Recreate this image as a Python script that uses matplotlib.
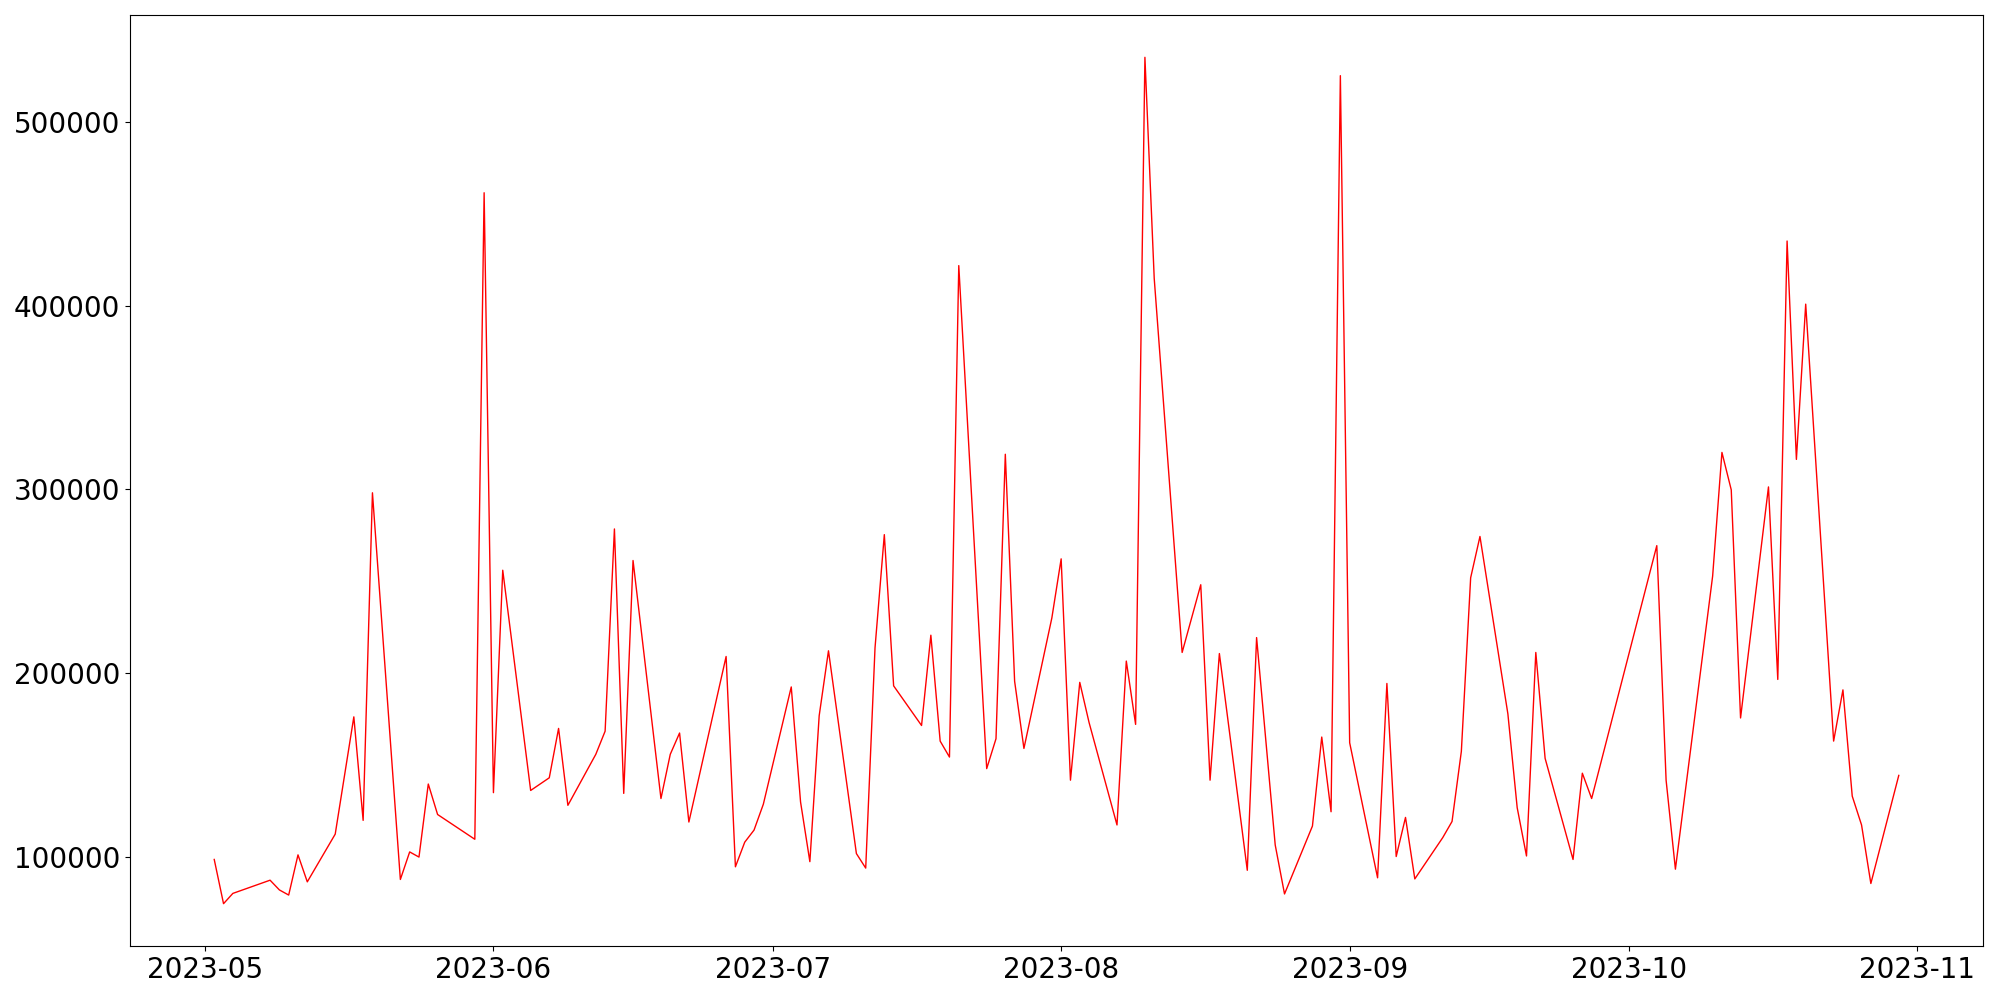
import pandas as pd
import matplotlib
matplotlib.use("Agg")
import matplotlib.pyplot as plt

# dates (business days) and values
dates = [
    "2023-05-02", "2023-05-03", "2023-05-04", "2023-05-08", "2023-05-09", "2023-05-10",
    "2023-05-11", "2023-05-12", "2023-05-15", "2023-05-17", "2023-05-18", "2023-05-19",
    "2023-05-22", "2023-05-23", "2023-05-24", "2023-05-25", "2023-05-26", "2023-05-30",
    "2023-05-31", "2023-06-01", "2023-06-02", "2023-06-05", "2023-06-07", "2023-06-08",
    "2023-06-09", "2023-06-12", "2023-06-13", "2023-06-14", "2023-06-15", "2023-06-16",
    "2023-06-19", "2023-06-20", "2023-06-21", "2023-06-22", "2023-06-26", "2023-06-27",
    "2023-06-28", "2023-06-29", "2023-06-30", "2023-07-03", "2023-07-04", "2023-07-05",
    "2023-07-06", "2023-07-07", "2023-07-10", "2023-07-11", "2023-07-12", "2023-07-13",
    "2023-07-14", "2023-07-17", "2023-07-18", "2023-07-19", "2023-07-20", "2023-07-21",
    "2023-07-24", "2023-07-25", "2023-07-26", "2023-07-27", "2023-07-28", "2023-07-31",
    "2023-08-01", "2023-08-02", "2023-08-03", "2023-08-04", "2023-08-07", "2023-08-08",
    "2023-08-09", "2023-08-10", "2023-08-11", "2023-08-14", "2023-08-16", "2023-08-17",
    "2023-08-18", "2023-08-21", "2023-08-22", "2023-08-24", "2023-08-25", "2023-08-28",
    "2023-08-29", "2023-08-30", "2023-08-31", "2023-09-01", "2023-09-04", "2023-09-05",
    "2023-09-06", "2023-09-07", "2023-09-08", "2023-09-11", "2023-09-12", "2023-09-13",
    "2023-09-14", "2023-09-15", "2023-09-18", "2023-09-19", "2023-09-20", "2023-09-21",
    "2023-09-22", "2023-09-25", "2023-09-26", "2023-09-27", "2023-10-04", "2023-10-05",
    "2023-10-06", "2023-10-10", "2023-10-11", "2023-10-12", "2023-10-13", "2023-10-16",
    "2023-10-17", "2023-10-18", "2023-10-19", "2023-10-20", "2023-10-23", "2023-10-24",
    "2023-10-25", "2023-10-26", "2023-10-27", "2023-10-30",
]

values = [
    98400, 74300, 79900, 87100, 81800, 79000,
    100900, 86200, 112200, 176100, 119700, 298200,
    87500, 102500, 99700, 139500, 122900, 109400,
    461700, 134800, 256000, 136000, 142900, 169800,
    127900, 155700, 168300, 278500, 134400, 261300,
    131600, 155700, 167300, 118800, 209000, 94400,
    107800, 114400, 128500, 192400, 129700, 97200,
    176700, 212100, 101600, 93700, 213700, 275400,
    193000, 171400, 220600, 162900, 154200, 422000,
    147900, 164200, 319200, 195500, 158900, 230000,
    262200, 141600, 194900, 173000, 117200, 206500,
    172000, 535500, 415000, 211200, 248100, 141600,
    210600, 92500, 219300, 106300, 79600, 116600,
    165100, 124400, 525500, 162000, 88400, 194300,
    100000, 121300, 87800, 110300, 119100, 157300,
    251900, 274400, 177700, 126600, 100300, 211200,
    153500, 98400, 145400, 131600, 269400, 141600,
    93100, 252800, 320200, 299800, 175500, 301400,
    196500, 435400, 316400, 401000, 162900, 190800,
    132900, 117200, 85300, 144200,
]

x = pd.to_datetime(dates)

fig, ax = plt.subplots(figsize=(20, 10), dpi=100)
ax.plot(x, values, color="red", linewidth=1)
ax.tick_params(axis="both", labelsize=20)
plt.subplots_adjust(left=0.065, right=0.9915, top=0.985, bottom=0.054)
plt.savefig("out.png")
